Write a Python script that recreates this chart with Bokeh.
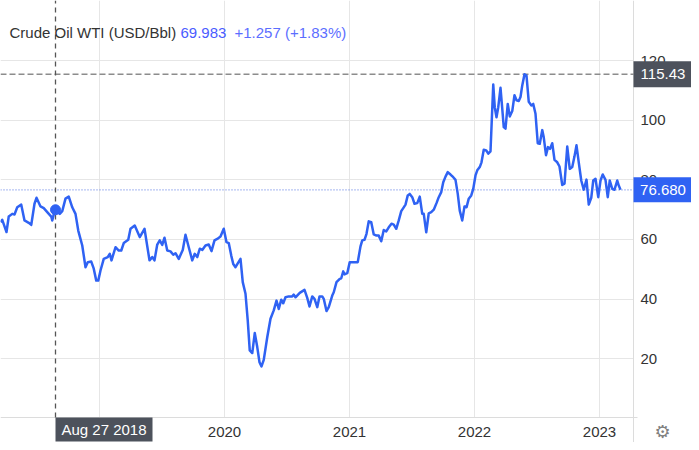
from bokeh.plotting import figure
from bokeh.models import Range1d, FixedTicker, Grid
from bokeh.core.properties import value
from bokeh.embed import file_html
from bokeh.resources import INLINE

# decimal-year dates and WTI closing prices (USD/Bbl)
t = [2018.208, 2018.222, 2018.256, 2018.274, 2018.302, 2018.320, 2018.342, 2018.374,
     2018.400, 2018.434, 2018.454, 2018.480, 2018.496, 2018.528, 2018.554, 2018.582,
     2018.614, 2018.622, 2018.642, 2018.648, 2018.682, 2018.702, 2018.728, 2018.754,
     2018.782, 2018.808, 2018.830, 2018.862, 2018.888, 2018.906, 2018.934, 2018.954,
     2018.974, 2018.990, 2019.008, 2019.034, 2019.066, 2019.082, 2019.096, 2019.128,
     2019.154, 2019.174, 2019.194, 2019.230, 2019.248, 2019.282, 2019.322, 2019.360,
     2019.400, 2019.422, 2019.440, 2019.462, 2019.482, 2019.502, 2019.520, 2019.542,
     2019.568, 2019.590, 2019.608, 2019.634, 2019.666, 2019.688, 2019.714, 2019.742,
     2019.762, 2019.782, 2019.802, 2019.822, 2019.848, 2019.874, 2019.896, 2019.920,
     2019.942, 2019.968, 2019.994, 2020.016, 2020.034, 2020.054, 2020.070, 2020.088,
     2020.106, 2020.128, 2020.146, 2020.168, 2020.186, 2020.202, 2020.222, 2020.242,
     2020.262, 2020.280, 2020.296, 2020.314, 2020.342, 2020.368, 2020.394, 2020.416,
     2020.434, 2020.454, 2020.470, 2020.488, 2020.514, 2020.542, 2020.554, 2020.568,
     2020.602, 2020.640, 2020.662, 2020.680, 2020.702, 2020.720, 2020.742, 2020.760,
     2020.782, 2020.794, 2020.816, 2020.834, 2020.862, 2020.874, 2020.896, 2020.922,
     2020.934, 2020.950, 2020.960, 2020.982, 2021.002, 2021.040, 2021.066, 2021.088,
     2021.102, 2021.120, 2021.136, 2021.154, 2021.174, 2021.194, 2021.216, 2021.234,
     2021.254, 2021.274, 2021.294, 2021.314, 2021.336, 2021.354, 2021.374, 2021.394,
     2021.414, 2021.434, 2021.448, 2021.466, 2021.482, 2021.502, 2021.520, 2021.542,
     2021.562, 2021.582, 2021.594, 2021.614, 2021.634, 2021.654, 2021.674, 2021.696,
     2021.714, 2021.734, 2021.750, 2021.768, 2021.786, 2021.808, 2021.830, 2021.848,
     2021.866, 2021.882, 2021.902, 2021.920, 2021.936, 2021.954, 2021.974, 2021.990,
     2022.008, 2022.022, 2022.042, 2022.056, 2022.074, 2022.094, 2022.110, 2022.128,
     2022.150, 2022.162, 2022.176, 2022.190, 2022.208, 2022.222, 2022.234, 2022.248,
     2022.266, 2022.282, 2022.302, 2022.320, 2022.336, 2022.354, 2022.368, 2022.382,
     2022.400, 2022.416, 2022.434, 2022.454, 2022.470, 2022.488, 2022.506, 2022.522,
     2022.542, 2022.554, 2022.572, 2022.588, 2022.604, 2022.622, 2022.640, 2022.662,
     2022.680, 2022.702, 2022.720, 2022.742, 2022.762, 2022.782, 2022.800, 2022.816,
     2022.834, 2022.854, 2022.874, 2022.896, 2022.914, 2022.934, 2022.950, 2022.968,
     2022.990, 2023.008, 2023.026, 2023.048, 2023.066, 2023.082, 2023.102, 2023.120,
     2023.142, 2023.154, 2023.168]

wti = [65.8, 66.6, 62.5, 67.7, 68.6, 68.4, 70.8, 71.7,
       66.4, 65.6, 64.9, 72.0, 74.0, 71.1, 70.5, 69.2,
       67.7, 66.4, 69.7, 69.98, 68.6, 69.5, 73.7, 74.4,
       70.8, 68.6, 63.0, 58.0, 50.7, 52.4, 52.6, 50.2,
       46.2, 46.2, 49.6, 53.5, 54.1, 55.2, 53.0, 57.4,
       56.3, 56.3, 58.8, 59.9, 63.6, 64.7, 60.8, 63.6,
       53.0, 54.1, 53.0, 58.3, 59.7, 58.2, 60.6, 56.3,
       56.0, 54.9, 55.4, 53.5, 56.5, 61.6, 57.4, 53.0,
       55.2, 54.1, 56.9, 56.5, 58.0, 58.3, 56.1, 59.7,
       60.2, 61.0, 63.6, 59.1, 58.8, 54.6, 51.8, 50.7,
       52.0, 53.5, 45.7, 41.8, 32.8, 22.8, 21.9, 28.6,
       23.9, 18.8, 17.4, 19.6, 27.2, 33.4, 36.2, 39.5,
       36.7, 39.8, 38.6, 40.6, 40.9, 40.9, 41.5, 40.6,
       42.1, 43.1, 40.4, 37.5, 40.9, 40.1, 37.3, 40.9,
       40.9, 40.1, 36.0, 37.3, 41.2, 42.3, 45.7, 46.8,
       47.0, 49.3, 48.3, 48.7, 52.4, 52.4, 52.4, 57.7,
       59.7, 59.9, 61.9, 66.1, 65.8, 61.7, 61.3, 61.3,
       59.4, 63.2, 62.7, 64.1, 65.3, 65.0, 63.6, 66.4,
       69.5, 70.8, 71.7, 74.8, 75.3, 74.2, 72.0, 72.2,
       74.4, 68.6, 68.6, 62.4, 68.8, 69.2, 70.0, 72.2,
       74.2, 75.9, 79.2, 81.1, 82.6, 81.8, 80.9, 80.0,
       75.3, 69.7, 66.4, 71.1, 70.8, 73.7, 74.8, 77.0,
       81.5, 83.2, 84.3, 85.9, 90.1, 89.9, 88.8, 89.6,
       112.0, 104.4, 101.0, 104.4, 110.9, 103.9, 97.7, 97.2,
       105.5, 101.3, 103.1, 108.4, 106.7, 106.5, 107.8, 111.7,
       115.43, 115.0, 106.2, 105.0, 105.5, 102.2, 92.3, 92.1,
       96.7, 94.3, 88.3, 91.0, 90.4, 92.3, 86.7, 85.9,
       84.5, 78.3, 78.7, 91.2, 83.7, 84.3, 87.9, 91.6,
       85.9, 79.8, 76.7, 80.1, 71.7, 74.0, 79.8, 80.4,
       74.2, 79.8, 81.8, 80.0, 74.2, 79.8, 77.0, 76.7,
       79.8, 78.1, 76.68]

year_ticks = [2019, 2020, 2021, 2022, 2023]
year_labels = ["2019", "2020", "2021", "2022", "2023"]
price_ticks = [20, 40, 60, 80, 100, 120]
price_labels = ["20", "40", "60", "80", "100", "120"]

title_name = "Crude Oil WTI (USD/Bbl)"
title_price = "69.983"
title_change = "+1.257 (+1.83%)"
last_price = 76.680
last_price_text = "76.680"
max_price = 115.43
max_price_text = "115.43"
cross_t = 2018.648
cross_value = 69.983
cross_text = "Aug 27 2018"

FONT = "Liberation Sans"
LINE = "#2f62f3"
DARK = "#4d525c"

# canvas geometry (pixels) and the scale that maps it
W, H = 691, 442
X0, PX_X = 2018.208, 0.008          # years at left edge, years per pixel
V_TOP, PX_Y = 140.20, 1 / 2.98      # price at top edge, price per pixel


def X(px):
    return X0 + px * PX_X


def Y(py):
    return V_TOP - py * PX_Y


x_start, x_end = X(0), X(W)
y_start, y_end = Y(H), Y(0)
plot_right = X(633)     # right edge of the price area
plot_bottom = Y(417)    # bottom edge of the price area

p = figure(width=W, height=H, output_backend="svg", toolbar_location=None,
           x_range=Range1d(x_start, x_end), y_range=Range1d(y_start, y_end),
           x_axis_location=None, y_axis_location=None,
           min_border=0)
p.outline_line_color = None
p.background_fill_color = "white"
p.border_fill_color = "white"
p.center = [
    Grid(dimension=0, ticker=FixedTicker(ticks=year_ticks), grid_line_color="#e6e6e6"),
    Grid(dimension=1, ticker=FixedTicker(ticks=price_ticks), grid_line_color="#e6e6e6"),
]

# axis panels (cover the grid outside the price area)
p.quad(left=[plot_right], right=[x_end], bottom=[y_start], top=[y_end],
       fill_color="white", line_color=None)
p.quad(left=[x_start], right=[plot_right], bottom=[y_start], top=[plot_bottom],
       fill_color="white", line_color=None)
p.segment(x0=[plot_right], y0=[y_start], x1=[plot_right], y1=[y_end],
          line_color="#dcdcdc", line_width=1)
p.segment(x0=[x_start], y0=[plot_bottom], x1=[plot_right + 4 * PX_X], y1=[plot_bottom],
          line_color="#dcdcdc", line_width=1)

# reference lines
p.segment(x0=[x_start], y0=[max_price], x1=[plot_right], y1=[max_price],
          line_color="#8c8c8c", line_dash="6 3", line_width=1.5)
p.segment(x0=[x_start], y0=[last_price], x1=[plot_right], y1=[last_price],
          line_color="#6f8be8", line_dash="1 2", line_width=1.2)
p.segment(x0=[cross_t], y0=[plot_bottom], x1=[cross_t], y1=[y_end],
          line_color="#555555", line_dash="5 4", line_width=1.3)

p.line(t, wti, line_color=LINE, line_width=2.5, line_join="round")
p.scatter([cross_t], [cross_value], size=10, color=LINE)

# tick labels
p.text(x=[X(640)] * len(price_ticks), y=price_ticks, text=price_labels,
       text_font=value(FONT), text_font_size="15px", text_color="#333333",
       text_baseline="middle", text_align="left")
p.text(x=year_ticks, y=[Y(431)] * len(year_ticks), text=year_labels,
       text_font=value(FONT), text_font_size="15px", text_color="#333333",
       text_baseline="middle", text_align="center")

# title
p.text(x=[X(9)], y=[Y(32)], text=[title_name], text_font=value(FONT),
       text_font_size="15px", text_color="#333333", text_baseline="middle")
p.text(x=[X(180)], y=[Y(32)], text=[title_price], text_font=value(FONT),
       text_font_size="15px", text_color="#4a5cff", text_baseline="middle")
p.text(x=[X(234)], y=[Y(32)], text=[title_change], text_font=value(FONT),
       text_font_size="15px", text_color="#5c6eff", text_baseline="middle")

# value boxes on the price axis
box_cx = plot_right + 29.5 * PX_X
p.rect(x=[box_cx], y=[max_price], width=59, height=26, width_units="screen",
       height_units="screen", fill_color=DARK, line_color=None)
p.rect(x=[box_cx], y=[last_price], width=59, height=25, width_units="screen",
       height_units="screen", fill_color=LINE, line_color=None)
p.text(x=[box_cx, box_cx], y=[max_price, last_price], text=[max_price_text, last_price_text],
       text_font=value(FONT), text_font_size="15px", text_color="white",
       text_baseline="middle", text_align="center")

# crosshair date box on the time axis
cross_cx = cross_t + 48.5 * PX_X
p.rect(x=[cross_cx], y=[Y(429)], width=97, height=24, width_units="screen",
       height_units="screen", fill_color=DARK, line_color=None)
p.text(x=[cross_cx], y=[Y(429)], text=[cross_text], text_font=value(FONT),
       text_font_size="15px", text_color="white", text_baseline="middle",
       text_align="center")

# settings gear
p.text(x=[X(662)], y=[Y(431)], text=["\u2699"], text_font=value("DejaVu Sans"),
       text_font_size="18px", text_color="#808080", text_baseline="middle",
       text_align="center")

open("out.html", "w").write(file_html(p, INLINE))
